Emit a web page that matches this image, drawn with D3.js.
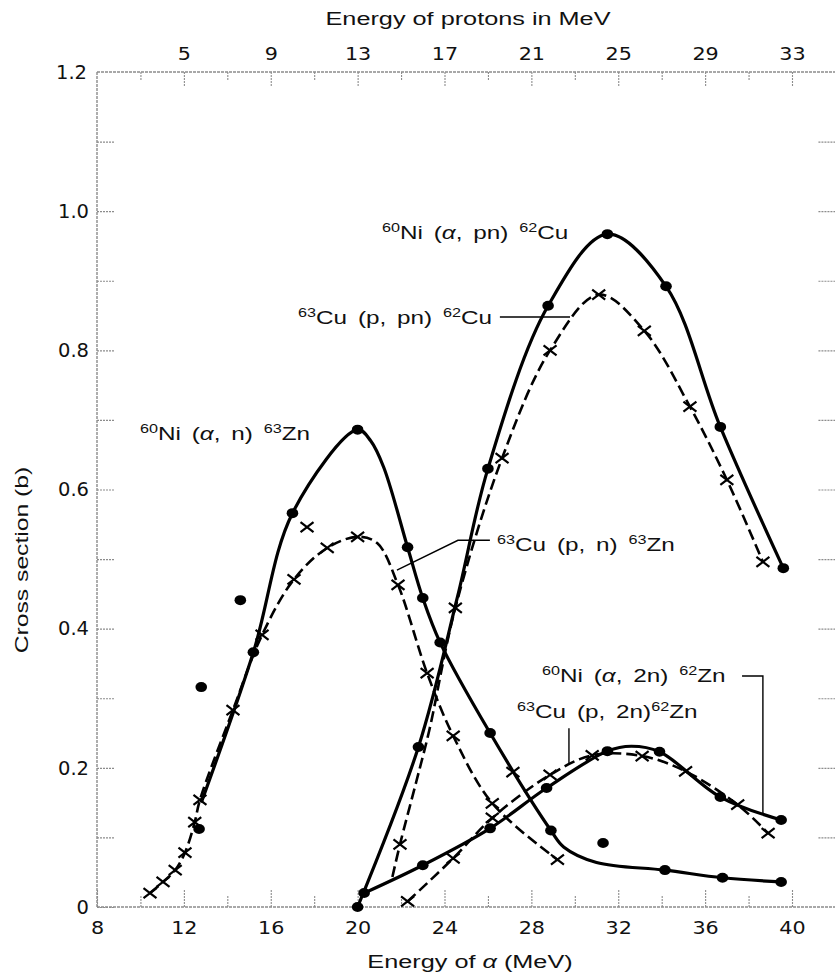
<!DOCTYPE html>
<html>
<head>
<meta charset="utf-8">
<script src="https://cdn.jsdelivr.net/npm/d3@7/dist/d3.min.js"></script>
<style>
  body { margin: 0; background: #fff; }
</style>
</head>
<body>
<div class="svg-container"></div>
<script>
var width = 835,
  height = 973;

// energy of alpha in MeV, cross section in barns
// 60Ni(a,n)63Zn  measured points (dots) and the drawn curve
var niAlphaN = [[12.7,0.112],[12.8,0.316],[14.6,0.441],[15.2,0.366],[17.0,0.566],[20.0,0.686],[22.3,0.517],[23.0,0.444],[23.8,0.38],[26.1,0.25],[28.9,0.11],[31.3,0.092],[34.15,0.053],[36.8,0.042],[39.5,0.036]];
var niAlphaNCurve = [[12.8,0.15],[15.2,0.366],[17.0,0.566],[20.0,0.686],[20.6,0.67],[21.2,0.632],[22.3,0.517],[23.0,0.444],[23.8,0.38],[26.1,0.25],[28.9,0.11],[29.5,0.086],[31.0,0.064],[34.15,0.053],[36.8,0.042],[39.5,0.036]];

// 63Cu(p,n)63Zn  (crosses, dashed)
var cuPN = [[10.44,0.02],[11.04,0.036],[11.6,0.053],[12.05,0.078],[12.5,0.122],[12.74,0.154],[14.26,0.283],[15.6,0.391],[17.07,0.471],[17.67,0.546],[18.6,0.516],[20.0,0.532],[21.86,0.463],[23.2,0.336],[24.4,0.246],[26.2,0.149],[27.15,0.194],[29.2,0.068]];
var cuPNCurve = [[10.44,0.02],[11.04,0.036],[11.6,0.053],[12.05,0.078],[12.5,0.122],[12.74,0.154],[14.26,0.283],[15.6,0.391],[17.07,0.471],[18.6,0.516],[20.0,0.532],[20.9,0.523],[21.86,0.463],[23.2,0.336],[24.4,0.246],[26.2,0.149],[29.2,0.068]];

// 60Ni(a,pn)62Cu  (dots, solid)
var niAlphaPN = [[20.0,0.0],[22.8,0.23],[26.0,0.63],[28.77,0.864],[31.5,0.967],[34.2,0.892],[36.7,0.69],[39.6,0.487]];
var niAlphaPNCurve = [[20.0,0.0],[22.8,0.23],[24.6,0.446],[26.0,0.63],[28.77,0.864],[31.5,0.967],[34.2,0.892],[36.7,0.69],[39.6,0.487]];

// 63Cu(p,pn)62Cu  (crosses, dashed)
var cuPPN = [[21.95,0.09],[24.5,0.43],[26.65,0.645],[28.86,0.80],[31.1,0.88],[33.2,0.828],[35.3,0.719],[37.0,0.614],[38.66,0.496]];
var cuPPNCurve = [[21.6,0.043],[21.95,0.09],[22.7,0.18],[23.3,0.254],[24.5,0.43],[26.65,0.645],[28.86,0.80],[31.1,0.88],[33.2,0.828],[35.3,0.719],[37.0,0.614],[38.66,0.496]];

// 60Ni(a,2n)62Zn  (dots, solid)
var niAlpha2N = [[20.3,0.02],[23.0,0.06],[26.1,0.113],[28.7,0.171],[31.5,0.224],[33.9,0.223],[36.7,0.158],[39.5,0.125]];
var niAlpha2NCurve = [[20.3,0.02],[23.0,0.06],[26.1,0.113],[28.7,0.171],[31.5,0.224],[32.6,0.231],[33.9,0.223],[36.7,0.158],[39.5,0.125]];

// 63Cu(p,2n)62Zn  (crosses, dashed)
var cuP2N = [[22.3,0.008],[24.4,0.07],[26.2,0.128],[28.86,0.19],[30.8,0.218],[33.1,0.217],[35.1,0.195],[37.5,0.147],[38.9,0.106]];

var alphaTicks = [8, 12, 16, 20, 24, 28, 32, 36, 40];
var alphaMinor = [10, 14, 18, 22, 26, 30, 34, 38];
var protonTicks = [5, 9, 13, 17, 21, 25, 29, 33];
var protonMinor = [3, 7, 11, 15, 19, 23, 27, 31];
var sigmaTicks = [0, 0.2, 0.4, 0.6, 0.8, 1.0, 1.2];
var sigmaMinor = [0.1, 0.3, 0.5, 0.7, 0.9, 1.1];
var protonShift = 7;

// reaction labels: [text, kind] pieces, position in (MeV, b)
var labels = [
  { parts: [["60","sup"],["Ni (",""],["\u03b1","it"],[", n) ",""],["63","sup"],["Zn",""]], at: [9.98, 0.671], anchor: "start" },
  { parts: [["60","sup"],["Ni (",""],["\u03b1","it"],[", pn) ",""],["62","sup"],["Cu",""]], at: [21.12, 0.96], anchor: "start" },
  { parts: [["63","sup"],["Cu (p, pn) ",""],["62","sup"],["Cu",""]], at: [26.19, 0.838], anchor: "end" },
  { parts: [["63","sup"],["Cu (p, n) ",""],["63","sup"],["Zn",""]], at: [26.42, 0.512], anchor: "start" },
  { parts: [["60","sup"],["Ni (",""],["\u03b1","it"],[", 2n) ",""],["62","sup"],["Zn",""]], at: [28.49, 0.323], anchor: "start" },
  { parts: [["63","sup"],["Cu (p, 2n)",""],["62","sup"],["Zn",""]], at: [27.34, 0.272], anchor: "start" }
];
var leaders = [
  [[26.55,0.848],[29.78,0.848]],
  [[26.09,0.527],[24.62,0.527],[21.81,0.484]],
  [[37.7,0.332],[38.66,0.332],[38.66,0.135]],
  [[29.73,0.257],[29.73,0.207]]
];

var svg = d3.select(".svg-container").append("svg")
  .attr("width", width)
  .attr("height", height)
  .style("font-family", "'Liberation Sans', Arial, sans-serif");

var x = d3.scaleLinear().domain([8, 40]).range([97, 792]);
var y = d3.scaleLinear().domain([0, 1.2]).range([907, 72]);
var xp = d3.scaleLinear().domain([8 - protonShift, 40 - protonShift]).range(x.range());

var frameColor = "#8c8c8c";

// frame
var xEnd = x(42) + 3;
svg.append("g")
  .attr("stroke", frameColor)
  .attr("stroke-width", 1.4)
  .attr("stroke-dasharray", "3,1")
  .selectAll("line")
  .data([[x(8), y(0), xEnd, y(0)], [x(8), y(1.2), xEnd, y(1.2)], [x(8), y(0), x(8), y(1.2)], [xEnd, y(0), xEnd, y(1.2)]])
  .enter().append("line")
  .attr("x1", function(d) { return d[0]; })
  .attr("y1", function(d) { return d[1]; })
  .attr("x2", function(d) { return d[2]; })
  .attr("y2", function(d) { return d[3]; });

var styleAxis = function(g, fontSize, stretch) {
  g.select(".domain").remove();
  g.selectAll(".tick line")
    .attr("stroke", frameColor)
    .attr("stroke-width", 1.1)
    .attr("stroke-dasharray", "2,1");
  g.selectAll(".tick text")
    .attr("fill", "#111")
    .style("font-family", "'DejaVu Sans', sans-serif")
    .style("font-size", fontSize + "px")
    .attr("transform", "scale(" + stretch + ",1)");
};

// bottom axis
svg.append("g")
  .attr("transform", "translate(0," + y(0) + ")")
  .call(d3.axisBottom(x).tickValues(alphaMinor).tickSize(-12).tickFormat(""))
  .call(styleAxis, 18, 1.15);
svg.append("g")
  .attr("transform", "translate(0," + y(0) + ")")
  .call(d3.axisBottom(x).tickValues(alphaTicks).tickSize(-17).tickPadding(14).tickFormat(d3.format("d")))
  .call(styleAxis, 18, 1.15);

// top axis (protons)
svg.append("g")
  .attr("transform", "translate(0," + y(1.2) + ")")
  .call(d3.axisTop(xp).tickValues(protonMinor).tickSize(-9).tickFormat(""))
  .call(styleAxis, 18, 1.15);
svg.append("g")
  .attr("transform", "translate(0," + y(1.2) + ")")
  .call(d3.axisTop(xp).tickValues(protonTicks).tickSize(-14).tickPadding(12).tickFormat(d3.format("d")))
  .call(styleAxis, 18, 1.15);

// left axis
var sigmaFormat = function(d) { return d === 0 ? "0" : d3.format(".1f")(d); };
svg.append("g")
  .attr("transform", "translate(" + x(8) + ",0)")
  .call(d3.axisLeft(y).tickValues(sigmaMinor).tickSize(-18).tickFormat(""))
  .call(styleAxis, 19.5, 1);
svg.append("g")
  .attr("transform", "translate(" + x(8) + ",0)")
  .call(d3.axisLeft(y).tickValues(sigmaTicks.slice(0, 6)).tickSize(-18).tickPadding(8).tickFormat(sigmaFormat))
  .call(styleAxis, 19.5, 1);
svg.append("g")
  .attr("transform", "translate(" + x(8) + ",0)")
  .call(d3.axisLeft(y).tickValues([1.2]).tickSize(0).tickPadding(10).tickFormat(sigmaFormat))
  .call(styleAxis, 19.5, 1);

// right axis ticks
svg.append("g")
  .attr("transform", "translate(" + xEnd + ",0)")
  .call(d3.axisRight(y).tickValues(sigmaMinor.concat(sigmaTicks.slice(1, 6))).tickSize(-21).tickFormat(""))
  .call(styleAxis, 18, 1);

// axis titles
svg.append("text")
  .attr("transform", "translate(" + 468 + ",25) scale(1.33,1)")
  .attr("text-anchor", "middle")
  .style("font-size", "19px")
  .attr("fill", "#111")
  .text("Energy of protons in MeV");

var bottomTitle = svg.append("text")
  .attr("transform", "translate(" + 470 + ",968) scale(1.33,1)")
  .attr("text-anchor", "middle")
  .style("font-size", "19px")
  .attr("fill", "#111");
bottomTitle.append("tspan").text("Energy of ");
bottomTitle.append("tspan").style("font-style", "italic").text("\u03b1");
bottomTitle.append("tspan").text(" (MeV)");

svg.append("text")
  .attr("transform", "translate(28,560) rotate(-90) scale(1.3,1)")
  .attr("text-anchor", "middle")
  .style("font-size", "19px")
  .attr("fill", "#111")
  .text("Cross section (b)");

// curves
var line = d3.line()
  .x(function(d) { return x(d[0]); })
  .y(function(d) { return y(d[1]); })
  .curve(d3.curveCatmullRom.alpha(0.5));

var curves = [
  { data: niAlphaNCurve, dashed: false },
  { data: cuPNCurve, dashed: true },
  { data: niAlphaPNCurve, dashed: false },
  { data: cuPPNCurve, dashed: true },
  { data: niAlpha2NCurve, dashed: false },
  { data: cuP2N, dashed: true }
];

svg.append("g").selectAll("path")
  .data(curves)
  .enter().append("path")
  .attr("d", function(d) { return line(d.data); })
  .attr("fill", "none")
  .attr("stroke", "#000")
  .attr("stroke-width", function(d) { return d.dashed ? 2.6 : 3.2; })
  .attr("stroke-dasharray", function(d) { return d.dashed ? "11,5" : null; })
  .attr("stroke-linecap", "butt");

// markers
var dots = niAlphaN.concat(niAlphaPN, niAlpha2N);
svg.append("g").selectAll("ellipse")
  .data(dots)
  .enter().append("ellipse")
  .attr("cx", function(d) { return x(d[0]); })
  .attr("cy", function(d) { return y(d[1]); })
  .attr("rx", 5.8)
  .attr("ry", 5)
  .attr("fill", "#000");

var crosses = cuPN.concat(cuPPN, cuP2N);
svg.append("g").selectAll("path")
  .data(crosses)
  .enter().append("path")
  .attr("transform", function(d) { return "translate(" + x(d[0]) + "," + y(d[1]) + ")"; })
  .attr("d", "M-6.5,-5L6.5,5M-6.5,5L6.5,-5")
  .attr("stroke", "#000")
  .attr("stroke-width", 2.2)
  .attr("fill", "none");

// leader lines
var leaderLine = d3.line()
  .x(function(d) { return x(d[0]); })
  .y(function(d) { return y(d[1]); });

svg.append("g").selectAll("path")
  .data(leaders)
  .enter().append("path")
  .attr("d", leaderLine)
  .attr("fill", "none")
  .attr("stroke", "#000")
  .attr("stroke-width", 1.4);

// reaction labels
labels.forEach(function(lab) {
  var t = svg.append("text")
    .attr("transform", "translate(" + x(lab.at[0]) + "," + y(lab.at[1]) + ") scale(1.35,1)")
    .attr("text-anchor", lab.anchor)
    .attr("fill", "#111")
    .style("font-size", "18px")
    .style("word-spacing", "3px");
  var wasSup = false;
  lab.parts.forEach(function(p) {
    var s = t.append("tspan").text(p[0]);
    if (p[1] === "sup") {
      s.style("font-size", "12px").attr("dy", wasSup ? 0 : -7);
      wasSup = true;
    } else {
      if (wasSup) s.attr("dy", 7);
      if (p[1] === "it") s.style("font-style", "italic");
      wasSup = false;
    }
  });
});
</script>
</body>
</html>
